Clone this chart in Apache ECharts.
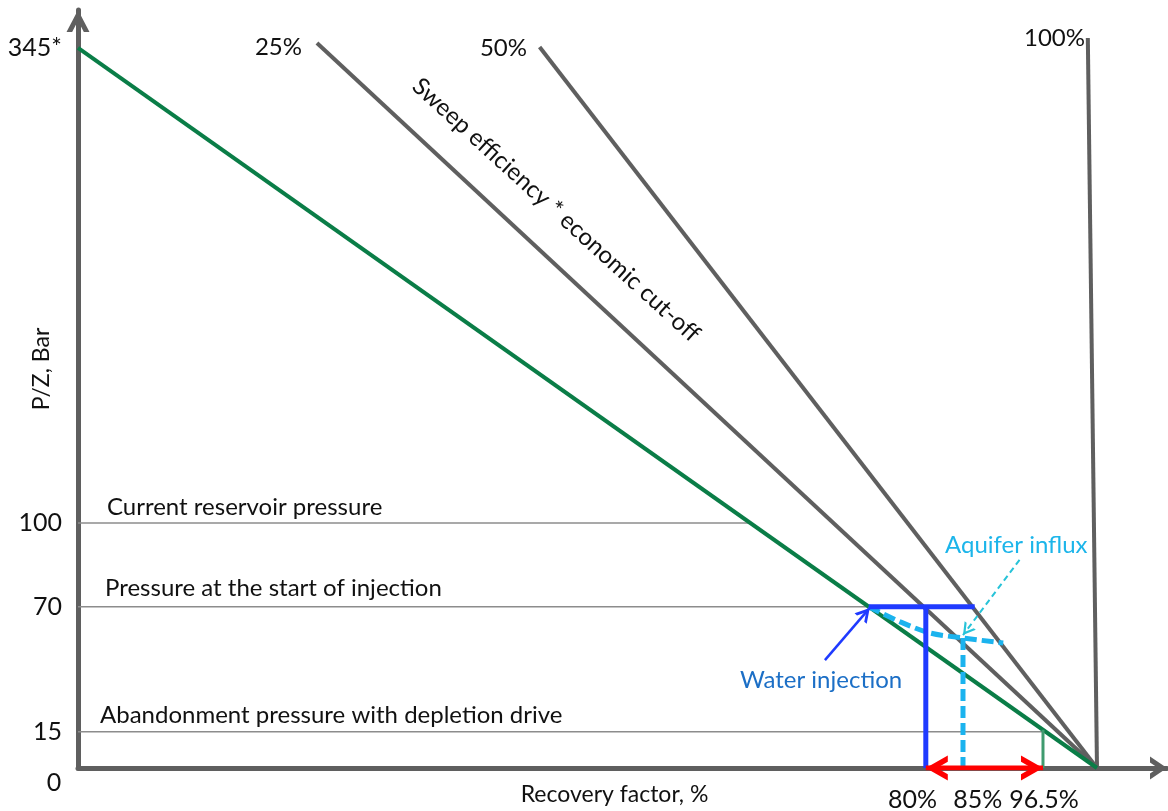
<!DOCTYPE html>
<html lang="en">
<head>
  <meta charset="UTF-8">
  <title>P/Z vs recovery factor</title>
  <script src="https://cdn.jsdelivr.net/npm/echarts@6/dist/echarts.min.js"></script>
  <style>
    html, body { margin: 0; padding: 0; background: #fff; }
    #main { width: 1168px; height: 811px; }
  </style>
</head>
<body>
  <div id="main"></div>
  <script>
    // the picture is a schematic (axes not to scale), so every point is given
    // in drawing units: x 0 = origin, x 100 = where all lines meet,
    // y 345 = top of the depletion line

    // tick labels and where they sit on the axes
    var yTickPos = [17.4, 77.3, 117.4, 345];
    var yTickLabels = ['15', '70', '100', '345*'];
    var xTickPos = [81.9, 88.3, 94.8];
    var xTickLabels = ['80%', '85%', '96.5%'];

    // depletion drive (green) and sweep efficiency lines (grey)
    var depletionLine = [[0, 345], [100, 0]];
    var sweep25 = [[23.45, 347.4], [100, 0]];
    var sweep50 = [[45.3, 345.5], [100, 0]];
    var sweep100 = [[99.1, 349.8], [100, 0]];

    // pressure levels, from the y axis to where they stop
    var currentLevel = [[0, 117.4], [66.0, 117.4]];
    var injectionLevel = [[0, 77.3], [77.6, 77.3]];
    var abandonLevel = [[0, 17.4], [94.7, 17.4]];

    // water injection (blue)
    var injectionTop = [[77.6, 77.3], [88.0, 77.3]];
    var injectionRF = [[83.2, 77.3], [83.2, 0]];
    // aquifer influx (dashed cyan)
    var aquiferCurve = [[77.6, 77.3], [80.7, 70.0], [83.6, 64.7], [86.85, 62.3], [90.8, 59.9]];
    var aquiferRF = [[86.85, 62.3], [86.85, 0]];
    // depletion recovery at abandonment
    var depletionRF = [[94.7, 18.3], [94.7, 0]];

    // arrows
    var rfRangeArrow = [[83.2, 0], [94.7, 0]];
    var waterArrow = [[73.3, 51.7], [77.7, 76.7]];
    var aquiferArrow = [[92.4, 99.7], [86.85, 63.7]];

    var FONT = 'Lato, "Noto Sans", sans-serif';

    // open chevron pointing up; its tip sits in the centre of a square box
    // of side 2*len, so the tip lands exactly on the point
    function chevron(hw, len, t) {
      var c = len, s = 2 * len;
      var ang = Math.atan2(hw, len);
      var dx = t / Math.cos(ang);
      var dy = dx * len / hw;
      return 'path://M0,0 L0,0 M' + s + ',' + s + ' L' + s + ',' + s +
        ' M' + c + ',' + c +
        ' L' + (c + hw) + ',' + (c + len) +
        ' L' + (c + hw - dx) + ',' + (c + len) +
        ' L' + c + ',' + (c + dy) +
        ' L' + (c - hw + dx) + ',' + (c + len) +
        ' L' + (c - hw) + ',' + (c + len) + ' Z';
    }

    function seg(data, color, width, extra) {
      return Object.assign({
        type: 'line',
        data: data,
        symbol: 'none',
        silent: true,
        lineStyle: { color: color, width: width }
      }, extra || {});
    }

    // arrow heads: scatter points on the tips, turned along the shaft
    function heads(id, color, head) {
      return {
        id: id,
        type: 'scatter',
        silent: true,
        symbol: chevron(head[0], head[1], head[2]),
        symbolSize: 2 * head[1],
        itemStyle: { color: color, opacity: 1 },
        data: [],
        z: 6
      };
    }

    function text(str, x, y, opt) {
      opt = opt || {};
      return {
        type: 'text',
        x: x, y: y,
        rotation: opt.rotation || 0,
        silent: true,
        style: {
          text: str,
          fill: opt.color || '#111',
          fontSize: opt.size || 24,
          fontFamily: FONT,
          align: opt.align || 'left',
          verticalAlign: 'middle'
        }
      };
    }

    var chart = echarts.init(document.getElementById('main'));

    var option = {
      animation: false,
      backgroundColor: '#fff',
      grid: { left: 78, right: 1, top: 10, bottom: 43, containLabel: false, outerBoundsMode: 'none' },
      xAxis: {
        type: 'value',
        min: 0,
        max: 106.87,
        splitLine: { show: false },
        axisTick: { show: false },
        axisLine: {
          lineStyle: { color: '#5f5f5f', width: 5 },
          symbol: ['none', chevron(11.5, 17, 5)],
          symbolSize: [34, 34]
        },
        axisLabel: {
          customValues: xTickPos,
          formatter: function (v) { return xTickLabels[xTickPos.indexOf(v)]; },
          margin: 19,
          color: '#111',
          fontSize: 25,
          fontFamily: FONT
        },
        name: 'Recovery factor, %',
        nameLocation: 'middle',
        nameGap: 15,
        nameMoveOverlap: false,
        nameTextStyle: { color: '#111', fontSize: 23, fontFamily: FONT, padding: [0, 16, 0, 0] }
      },
      yAxis: {
        type: 'value',
        min: 0,
        max: 363.2,
        splitLine: { show: false },
        axisTick: { show: false },
        axisLine: {
          lineStyle: { color: '#5f5f5f', width: 5 },
          symbol: ['none', chevron(11.5, 22, 5)],
          symbolSize: [44, 44]
        },
        axisLabel: {
          customValues: yTickPos,
          formatter: function (v) { return yTickLabels[yTickPos.indexOf(v)]; },
          margin: 16,
          color: '#111',
          fontSize: 25,
          fontFamily: FONT
        },
        name: 'P/Z, Bar',
        nameLocation: 'middle',
        nameRotate: 90,
        nameGap: 25,
        nameMoveOverlap: false,
        nameTextStyle: { color: '#111', fontSize: 23, fontFamily: FONT, padding: [0, 0, 0, 40] }
      },
      series: [
        seg(currentLevel, '#8c8c8c', 1.5),
        seg(injectionLevel, '#8c8c8c', 1.5),
        seg(abandonLevel, '#8c8c8c', 1.5),
        seg(sweep25, '#5f5f5f', 4),
        seg(sweep50, '#5f5f5f', 4),
        seg(sweep100, '#5f5f5f', 4),
        seg(depletionLine, '#0a7d47', 4),
        seg(depletionRF, '#3f9b6f', 3),
        seg(aquiferCurve, '#1bb3ee', 5, { smooth: 0.3, lineStyle: { color: '#1bb3ee', width: 5, type: [12, 5] } }),
        seg(aquiferRF, '#1bb3ee', 5, { lineStyle: { color: '#1bb3ee', width: 5, type: [12, 5] } }),
        seg(injectionTop, '#1f3aff', 5),
        seg(injectionRF, '#1f3aff', 5),
        // arrow shafts
        seg(rfRangeArrow, '#ff0000', 5, { z: 5 }),
        seg(waterArrow, '#1f3aff', 2.5, { z: 5 }),
        seg(aquiferArrow, '#27c3d8', 2, { z: 5, lineStyle: { color: '#27c3d8', width: 2, type: [6, 4] } }),
        heads('redHeads', '#ff0000', [12.5, 22, 5.5]),
        heads('waterHead', '#1f3aff', [8, 14, 2.8]),
        heads('aquiferHead', '#27c3d8', [7, 12, 2.2])
      ],
      graphic: [
        text('0', 54, 783, { align: 'center', size: 25 }),
        text('25%', 302, 47, { align: 'right' }),
        text('50%', 527, 48, { align: 'right' }),
        text('100%', 1085, 38, { align: 'right' }),
        text('Sweep efficiency * economic cut-off', 556, 210, { align: 'center', rotation: -42.3 * Math.PI / 180 }),
        text('Current reservoir pressure', 107, 507),
        text('Pressure at the start of injection', 105, 588),
        text('Abandonment pressure with depletion drive', 100, 715),
        text('Water injection', 740, 680, { color: '#1c6fc6' }),
        text('Aquifer influx', 945, 545, { color: '#1cb5ea' })
      ]
    };

    chart.setOption(option);

    // turn each head along its shaft, using the chart's own pixel mapping
    function headAt(from, to) {
      var p1 = chart.convertToPixel({ gridIndex: 0 }, from);
      var p2 = chart.convertToPixel({ gridIndex: 0 }, to);
      var deg = Math.atan2(p2[0] - p1[0], p1[1] - p2[1]) * 180 / Math.PI;
      return { value: to, symbolRotate: -deg };
    }

    chart.setOption({
      series: [
        { id: 'redHeads', data: [headAt(rfRangeArrow[1], rfRangeArrow[0]), headAt(rfRangeArrow[0], rfRangeArrow[1])] },
        { id: 'waterHead', data: [headAt(waterArrow[0], waterArrow[1])] },
        { id: 'aquiferHead', data: [headAt(aquiferArrow[0], aquiferArrow[1])] }
      ]
    });

    window.onresize = function () { chart.resize(); };
  </script>
</body>
</html>
